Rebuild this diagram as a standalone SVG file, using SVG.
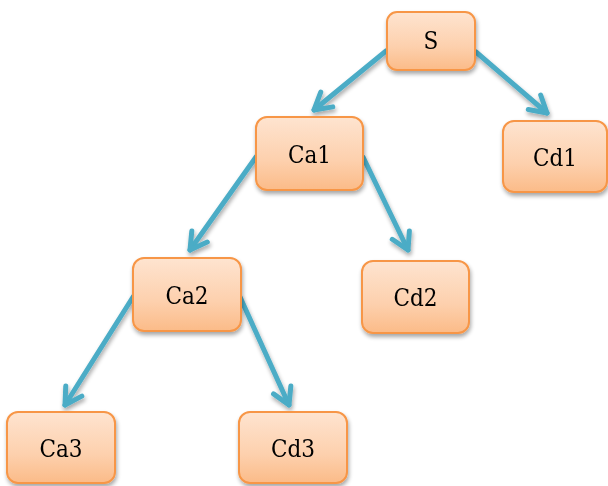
<svg xmlns="http://www.w3.org/2000/svg" width="608" height="486" viewBox="0 0 608 486">
<defs>
<linearGradient id="g" x1="0" y1="0" x2="0" y2="1">
<stop offset="0" stop-color="#fee4d0"/>
<stop offset="0.6" stop-color="#fdd0ad"/>
<stop offset="1" stop-color="#fbbb88"/>
</linearGradient>
<filter id="sh" x="-20%" y="-20%" width="150%" height="150%">
<feGaussianBlur in="SourceAlpha" stdDeviation="2"/>
<feOffset dx="1" dy="3" result="b"/>
<feComponentTransfer><feFuncA type="linear" slope="0.35"/></feComponentTransfer>
<feMerge><feMergeNode/><feMergeNode in="SourceGraphic"/></feMerge>
</filter>
<marker id="ah" markerUnits="userSpaceOnUse" markerWidth="44" markerHeight="44" viewBox="-26 -22 44 44" refX="0" refY="0" orient="auto">
<path d="M-16.5,-9.5 L0,0 L-16.5,9.5" fill="none" stroke="#4bacc6" stroke-width="5" stroke-linecap="round" stroke-linejoin="round"/>
</marker>
</defs>
<style>
.box{fill:url(#g);stroke:#f79646;stroke-width:2;}
.lbl{font-family:"DejaVu Serif Condensed","DejaVu Serif","Liberation Serif",serif;font-stretch:condensed;font-size:24px;fill:#000;text-anchor:middle;dominant-baseline:central;}
.c{fill:none;stroke:#4bacc6;stroke-width:5;stroke-linecap:round;marker-end:url(#ah);}
</style>
<g id="connectors" filter="url(#sh)">
<line class="c" x1="386" y1="51" x2="314" y2="110"/>
<line class="c" x1="476" y1="52" x2="547" y2="113"/>
<line class="c" x1="256" y1="157" x2="190" y2="250"/>
<line class="c" x1="363" y1="157" x2="408" y2="250"/>
<line class="c" x1="133" y1="297" x2="65" y2="405"/>
<line class="c" x1="240" y1="297" x2="289" y2="405"/>
</g>
<g id="S" filter="url(#sh)"><rect class="box" x="387" y="12" width="88" height="58" rx="10"/><text class="lbl" x="431" y="41">S</text></g>
<g id="Ca1" filter="url(#sh)"><rect class="box" x="256" y="117" width="107" height="73" rx="11"/><text class="lbl" x="309.5" y="155">Ca1</text></g>
<g id="Cd1" filter="url(#sh)"><rect class="box" x="503" y="121" width="104" height="71" rx="11"/><text class="lbl" x="555" y="158">Cd1</text></g>
<g id="Ca2" filter="url(#sh)"><rect class="box" x="133" y="258" width="108" height="73" rx="11"/><text class="lbl" x="187" y="296">Ca2</text></g>
<g id="Cd2" filter="url(#sh)"><rect class="box" x="362" y="261" width="107" height="72" rx="11"/><text class="lbl" x="415.5" y="298">Cd2</text></g>
<g id="Ca3" filter="url(#sh)"><rect class="box" x="7" y="412" width="108" height="71" rx="11"/><text class="lbl" x="61" y="449">Ca3</text></g>
<g id="Cd3" filter="url(#sh)"><rect class="box" x="239" y="412" width="108" height="71" rx="11"/><text class="lbl" x="293" y="449">Cd3</text></g>
</svg>
